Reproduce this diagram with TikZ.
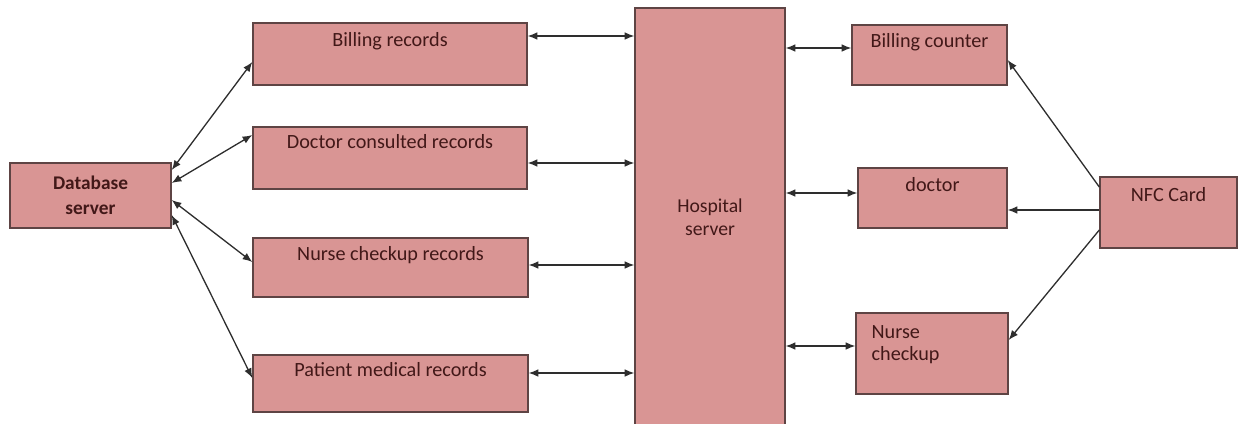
\documentclass[tikz,border=0pt]{standalone}
\usepackage{fontspec}
\setmainfont{Carlito}
\usetikzlibrary{arrows.meta}
\definecolor{boxfill}{HTML}{D99594}
\definecolor{boxline}{HTML}{5E4444}
\definecolor{textred}{HTML}{421818}
\definecolor{linegray}{HTML}{2E2E2E}
\begin{document}
\begin{tikzpicture}[
        x=0.02cm, y=-0.02cm,
        box/.style={rectangle, draw=boxline, fill=boxfill, line width=0.8pt,
                    inner sep=0pt, text=textred, align=center,
                    font=\fontsize{11.2}{13}\selectfont},
        txt/.style={anchor=north, inner sep=0pt, yshift=#1, text=textred,
                    font=\fontsize{11.5}{12.5}\selectfont},
        txt/.default=-0.20cm,
        link/.style={draw=linegray, line width=0.75pt,
                     {Latex[length=5.5pt,width=4.4pt]}-{Latex[length=5.5pt,width=4.4pt]}},
        oneway/.style={draw=linegray, line width=0.75pt,
                       -{Latex[length=5.5pt,width=4.4pt]}}
    ]
    \useasboundingbox (0,0) rectangle (1239,423);

    % Database server and the record tables
    \node[box, minimum width=161*0.02cm, minimum height=65*0.02cm,
          font=\fontsize{11}{14.5}\selectfont\bfseries] (database) at (90.5,195.5) {Database\\server};
    \node[box, minimum width=274*0.02cm, minimum height=62*0.02cm,
          label={[txt]north:Billing records}] (billingrec) at (390,54) {};
    \node[box, minimum width=274*0.02cm, minimum height=62*0.02cm,
          label={[txt=-0.15cm]north:Doctor consulted records}] (doctorrec) at (390,158) {};
    \node[box, minimum width=275*0.02cm, minimum height=59*0.02cm,
          label={[txt=-0.17cm]north:Nurse checkup records}] (nurserec) at (390.5,267.5) {};
    \node[box, minimum width=275*0.02cm, minimum height=57*0.02cm,
          label={[txt=-0.15cm]north:Patient medical records}] (patientrec) at (390.5,383.5) {};

    % Hospital server
    \node[box, minimum width=150*0.02cm, minimum height=418*0.02cm] (hospital) at (710,217) {Hospital\\server};

    % Access points and NFC card
    \node[box, minimum width=155*0.02cm, minimum height=60*0.02cm,
          label={[txt=-0.17cm]north:Billing counter}] (billingctr) at (929.5,55) {};
    \node[box, minimum width=149*0.02cm, minimum height=60*0.02cm,
          label={[txt]north:doctor}] (doctor) at (932.5,198) {};
    \node[box, minimum width=152*0.02cm, minimum height=81*0.02cm,
          label={[txt=-0.26cm, anchor=north west, align=left, xshift=0.32cm]north west:Nurse\\checkup}] (nursechk) at (932,353.5) {};
    \node[box, minimum width=137*0.02cm, minimum height=71*0.02cm,
          label={[txt=-0.22cm]north:NFC Card}] (nfc) at (1168.5,212.5) {};

    % Database server links
    \draw[link] ([yshift=0.51cm]database.east) -- ([yshift=-0.16cm]billingrec.west);
    \draw[link] ([yshift=0.25cm]database.east) -- ([yshift=0.46cm]doctorrec.west);
    \draw[link] ([yshift=-0.09cm]database.east) -- ([yshift=0.11cm]nurserec.west);
    \draw[link] ([yshift=-0.39cm]database.east) -- ([yshift=0.11cm]patientrec.west);

    % Records to hospital server
    \draw[link] ([yshift=0.36cm]billingrec.east) -- ([yshift=0.36cm]billingrec.east -| hospital.west);
    \draw[link] ([yshift=-0.10cm]doctorrec.east) -- ([yshift=-0.10cm]doctorrec.east -| hospital.west);
    \draw[link] ([yshift=0.05cm]nurserec.east) -- ([yshift=0.05cm]nurserec.east -| hospital.west);
    \draw[link] ([yshift=0.21cm]patientrec.east) -- ([yshift=0.21cm]patientrec.east -| hospital.west);

    % Hospital server to access points
    \draw[link] ([yshift=0.14cm]billingctr.west -| hospital.east) -- ([yshift=0.14cm]billingctr.west);
    \draw[link] ([yshift=0.10cm]doctor.west -| hospital.east) -- ([yshift=0.10cm]doctor.west);
    \draw[link] ([yshift=0.15cm]nursechk.west -| hospital.east) -- ([yshift=0.15cm]nursechk.west);

    % NFC card
    \draw[oneway] ([yshift=0.51cm]nfc.west) -- ([yshift=-0.10cm]billingctr.east);
    \draw[oneway] ([yshift=0.05cm]nfc.west) -- ([yshift=0.05cm]nfc.west -| doctor.east);
    \draw[oneway] ([yshift=-0.35cm]nfc.west) -- ([yshift=0.27cm]nursechk.east);

\end{tikzpicture}
\end{document}
